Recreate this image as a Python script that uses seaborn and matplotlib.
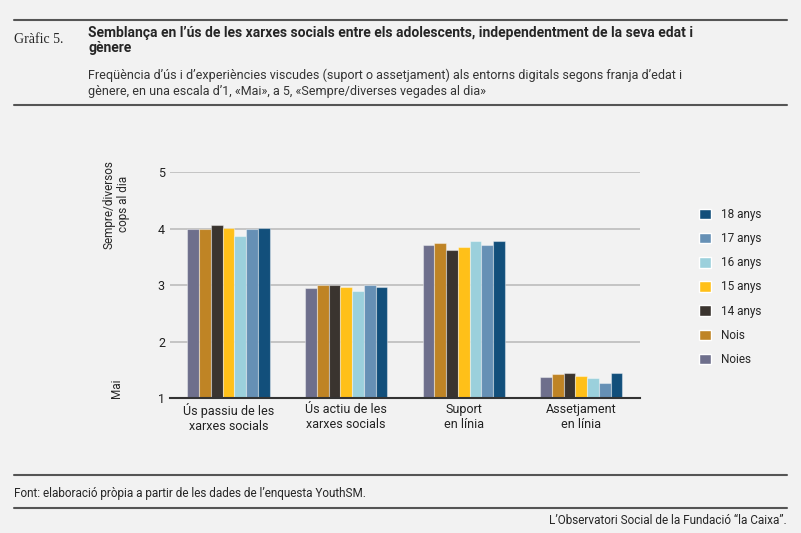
import pandas as pd
import matplotlib
matplotlib.use("Agg")
import matplotlib.pyplot as plt
import seaborn as sns
from matplotlib.patches import Patch

categories = ["Ús passiu de les\nxarxes socials", "Ús actiu de les\nxarxes socials",
              "Suport\nen línia", "Assetjament\nen línia"]
series = ["Noies", "Nois", "14 anys", "15 anys", "16 anys", "17 anys", "18 anys"]
noies = [4.00, 2.95, 3.71, 1.37]
nois = [4.00, 3.00, 3.74, 1.43]
a14 = [4.06, 3.00, 3.63, 1.44]
a15 = [4.02, 2.96, 3.67, 1.40]
a16 = [3.87, 2.89, 3.79, 1.35]
a17 = [4.00, 3.00, 3.71, 1.26]
a18 = [4.02, 2.97, 3.79, 1.44]
colors = ["#6e6f8c", "#bf8425", "#3a342f", "#ffc019", "#9bd0dc", "#6690b5", "#124f7b"]

rows = []
for s, vals in zip(series, [noies, nois, a14, a15, a16, a17, a18]):
    for c, v in zip(categories, vals):
        rows.append({"cat": c, "serie": s, "val": v})
df = pd.DataFrame(rows)

sns.set_style("white")
plt.rcParams['font.family'] = ['Roboto', 'DejaVu Sans']
bg = "#f2f2f2"
fig = plt.figure(figsize=(8.01, 5.33), dpi=100, facecolor=bg)
ax = fig.add_axes([0.212, 0.253, 0.587, 0.424], facecolor=bg)

sns.barplot(data=df, x="cat", y="val", hue="serie", palette=colors, ax=ax,
            width=0.7, legend=False, saturation=1)
for p in ax.patches:
    h = p.get_height()
    p.set_y(1)
    p.set_height(h - 1)
    p.set_edgecolor((1, 1, 1, 0.4))
    p.set_linewidth(0.8)

ax.set_ylim(1, 5)
ax.set_yticks([1, 2, 3, 4, 5])
ax.yaxis.grid(True, color="#bdbdbd", lw=1.2)
ax.set_axisbelow(True)
for s in ["top", "right", "left"]:
    ax.spines[s].set_visible(False)
ax.spines["bottom"].set_color("#333333")
ax.spines["bottom"].set_linewidth(1.5)
ax.tick_params(length=0, labelsize=9, colors="#222222")
ax.set_xlabel("")
ax.set_ylabel("")

fig.text(0.145, 0.70, "Sempre/diversos\ncops al dia", rotation=90, ha="center", va="top", fontsize=8.5)
fig.text(0.145, 0.253, "Mai", rotation=90, ha="center", va="bottom", fontsize=8.5)

handles = [Patch(facecolor=c, label=s) for s, c in zip(series, colors)][::-1]
fig.legend(handles=handles, loc="upper left", bbox_to_anchor=(0.86, 0.63), frameon=False,
           fontsize=8.5, handlelength=1.0, handleheight=1.0, labelspacing=0.95)

# header and footer
fig.add_artist(plt.Line2D([0.018, 0.982], [0.962, 0.962], color="#555555", lw=1.5))
fig.add_artist(plt.Line2D([0.018, 0.982], [0.803, 0.803], color="#555555", lw=1.5))
fig.text(0.018, 0.925, "Gràfic 5.", fontsize=10, family=["Liberation Serif", "DejaVu Serif"], va="center")
fig.text(0.11, 0.952, "Semblança en l’ús de les xarxes socials entre els adolescents, independentment de la seva edat i\ngènere",
         fontsize=10, fontweight="bold", va="top", linespacing=1.1)
fig.text(0.11, 0.872, "Freqüència d’ús i d’experiències viscudes (suport o assetjament) als entorns digitals segons franja d’edat i\ngènere, en una escala d’1, «Mai», a 5, «Sempre/diverses vegades al dia»",
         fontsize=9, va="top", color="#333333", linespacing=1.3)
fig.add_artist(plt.Line2D([0.018, 0.982], [0.108, 0.108], color="#555555", lw=1.5))
fig.text(0.018, 0.075, "Font: elaboració pròpia a partir de les dades de l’enquesta YouthSM.", fontsize=8.5, va="center")
fig.add_artist(plt.Line2D([0.018, 0.982], [0.047, 0.047], color="#555555", lw=1.5))
fig.text(0.982, 0.024, "L’Observatori Social de la Fundació “la Caixa”.", fontsize=8.5, va="center", ha="right")

fig.savefig("out.png", dpi=100, facecolor=bg)
